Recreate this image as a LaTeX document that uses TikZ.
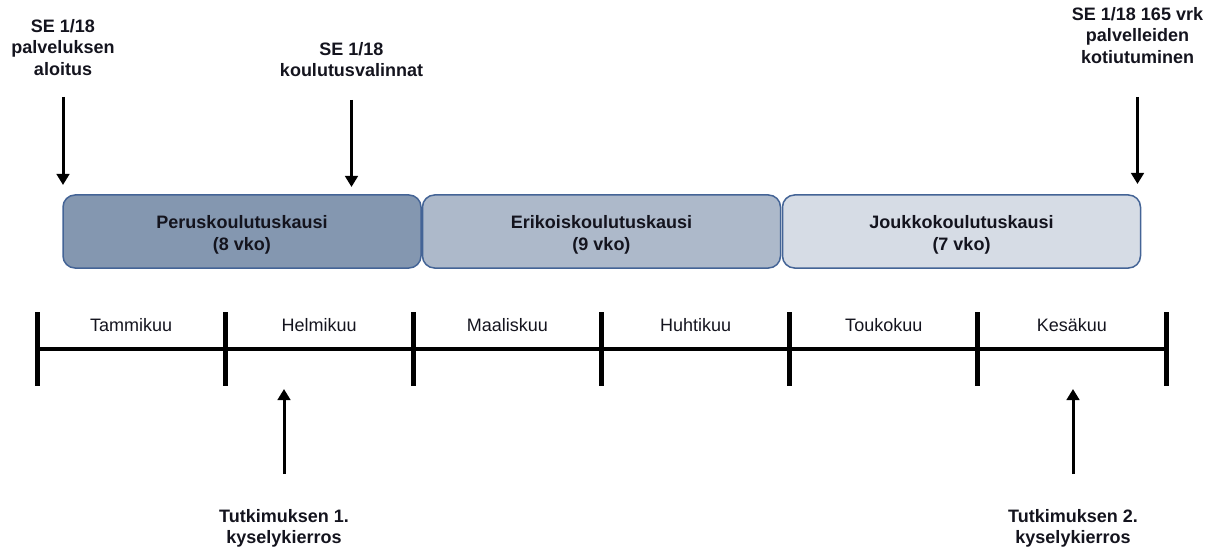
\documentclass[tikz,border=0pt]{standalone}
\usepackage{fontspec}
\setmainfont{Liberation Sans}
\usetikzlibrary{arrows.meta,calc,positioning}
\definecolor{kausiA}{RGB}{132,151,176}
\definecolor{kausiB}{RGB}{173,185,202}
\definecolor{kausiC}{RGB}{214,220,229}
\definecolor{kausireuna}{RGB}{68,100,150}
\definecolor{teksti}{RGB}{20,20,30}
\tikzset{
  kausi/.style={draw=kausireuna,line width=1.5pt,rounded corners=12pt,
    minimum width=358pt,minimum height=73pt,inner sep=0pt,align=center,
    font=\fontsize{18}{22}\selectfont\bfseries,text=teksti},
  merkki/.style={align=center,inner sep=0pt,anchor=north,
    font=\fontsize{18}{21.7}\selectfont\bfseries,text=teksti},
  kuu/.style={inner sep=0pt,anchor=base,font=\fontsize{18}{20}\selectfont,text=teksti},
  nuoli/.style={line width=3pt,-{Triangle[width=12.5pt,length=11pt]}},
  viiva/.style={line width=4.5pt}
}

\begin{document}
\begin{tikzpicture}[x=1pt,y=-1pt]
  \useasboundingbox (0,0) rectangle (1221,548);

  % timeline points
  \foreach \i in {0,...,6}
    \coordinate (t\i) at ({37+\i*188.17},349);

  % training periods
  \node[kausi,fill=kausiA] (perus) at (242,231.5) {\rule{0pt}{19pt}Peruskoulutuskausi\\(8 vko)};
  \node[kausi,fill=kausiB] (erikois) at (601.5,231.5) {\rule{0pt}{19pt}Erikoiskoulutuskausi\\(9 vko)};
  \node[kausi,fill=kausiC] (joukko) at (961.5,231.5) {\rule{0pt}{19pt}Joukkokoulutuskausi\\(7 vko)};

  % events above
  \node[merkki] (aloitus) at (63,19) {SE 1/18\\palveluksen\\aloitus};
  \node[merkki] (valinnat) at (351.5,42) {SE 1/18\\koulutusvalinnat};
  \node[merkki] (kotiutus) at (1137.5,7) {SE 1/18 165 vrk\\palvelleiden\\kotiutuminen};
  \coordinate (a1) at (63,97);
  \coordinate (b1) at (63,185);
  \coordinate (a2) at (351.5,100);
  \coordinate (b2) at (351.5,187);
  \coordinate (a3) at (1137.5,97);
  \coordinate (b3) at (1137.5,184);
  \draw[nuoli] (a1) -- (b1);
  \draw[nuoli] (a2) -- (b2);
  \draw[nuoli] (a3) -- (b3);

  % months
  \draw[viiva] (t0) -- (t6);
  \foreach \i in {0,...,6}
    \draw[line width=5pt] ($(t\i)+(0,-37)$) -- ($(t\i)+(0,37)$);
  \foreach \kk [count=\i from 0] in {Tammikuu,Helmikuu,Maaliskuu,Huhtikuu,Toukokuu,Kes\"akuu}
    \node[kuu] (kuu\i) at ({37+\i*188.17+94.08},331) {\kk};

  % survey rounds
  \coordinate (c1) at (284,474);
  \coordinate (d1) at (284,389);
  \coordinate (c2) at (1073,474);
  \coordinate (d2) at (1073,389);
  \draw[nuoli] (c1) -- (d1);
  \draw[nuoli] (c2) -- (d2);
  \node[merkki] (kysely1) at (284,509) {Tutkimuksen 1.\\kyselykierros};
  \node[merkki] (kysely2) at (1073,509) {Tutkimuksen 2.\\kyselykierros};
\end{tikzpicture}
\end{document}
